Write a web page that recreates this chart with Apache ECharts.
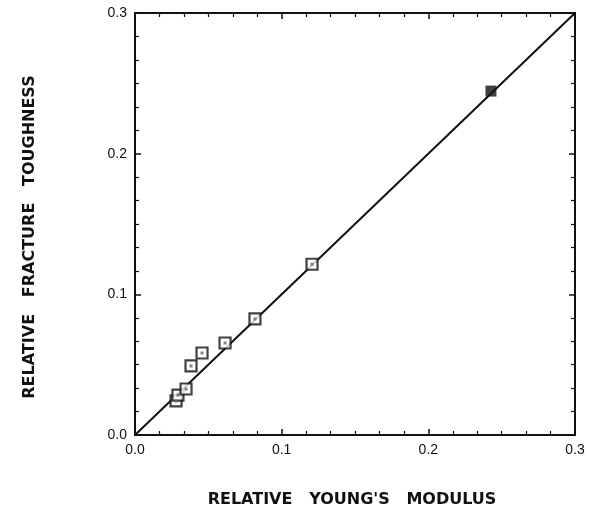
<!DOCTYPE html>
<html>
<head>
<meta charset="utf-8">
<script src="https://cdn.jsdelivr.net/npm/echarts@6/dist/echarts.min.js"></script>
<style>
  html, body { margin: 0; padding: 0; background: #fff; }
  #main { width: 591px; height: 510px; }
</style>
</head>
<body>
<div id="main"></div>
<script>
// data
var modulusX = [0.0280, 0.0293, 0.0348, 0.0382, 0.0457, 0.0614, 0.0818, 0.1207];
var toughY   = [0.0242, 0.0284, 0.0327, 0.0491, 0.0583, 0.0654, 0.0825, 0.1214];
var filledX = [0.2427];
var filledY = [0.2445];
var lineX = [0.0, 0.3];
var lineY = [0.0, 0.3];
var tickLabels = ['0.0', '0.1', '0.2', '0.3'];

function pairs(xs, ys) {
  var out = [];
  for (var i = 0; i < xs.length; i++) out.push([xs[i], ys[i]]);
  return out;
}

var myChart = echarts.init(document.getElementById('main'));
var font = 'Liberation Sans';
var titleFont = { fill: '#111', fontFamily: 'DejaVu Sans', fontWeight: 'bold', fontSize: 16, align: 'center', verticalAlign: 'middle' };

function axisCommon(showLabel) {
  return {
    min: 0, max: 0.3, interval: 0.1,
    axisLine: { show: true, onZero: false, lineStyle: { color: '#111', width: 2 } },
    axisTick: { show: true, inside: true, length: 6, lineStyle: { color: '#111', width: 1.5 } },
    minorTick: { show: true, splitNumber: 6, length: 4, lineStyle: { color: '#111', width: 1.2 } },
    splitLine: { show: false },
    axisLabel: {
      show: showLabel, color: '#111', fontFamily: font, fontSize: 14, margin: 8,
      formatter: function (v) { return tickLabels[Math.round(v * 10)]; }
    }
  };
}

var xb = axisCommon(true);
xb.position = 'bottom';
var xt = axisCommon(false);
xt.position = 'top';
var yl = axisCommon(true);
yl.position = 'left';
var yr = axisCommon(false);
yr.position = 'right';

var option = {
  animation: false,
  backgroundColor: '#fff',
  grid: { left: 135, right: 16, top: 13, bottom: 75 },
  xAxis: [xb, xt],
  yAxis: [yl, yr],
  // axis titles
  graphic: [
    {
      type: 'text',
      x: 352, y: 500,
      style: Object.assign({ text: "RELATIVE   YOUNG'S   MODULUS" }, titleFont)
    },
    {
      type: 'text',
      x: 30, y: 237, rotation: Math.PI / 2,
      style: Object.assign({ text: 'RELATIVE   FRACTURE   TOUGHNESS' }, titleFont)
    }
  ],
  series: [
    {
      type: 'line',
      data: pairs(lineX, lineY),
      symbol: 'none',
      lineStyle: { color: '#111', width: 2 },
      z: 2
    },
    {
      type: 'scatter',
      data: pairs(modulusX, toughY),
      symbol: 'rect',
      symbolSize: 11,
      itemStyle: { color: '#fff', borderColor: '#111', borderWidth: 2.2 },
      z: 3
    },
    {
      type: 'scatter',
      data: pairs(modulusX, toughY),
      symbol: 'rect',
      symbolSize: 3,
      itemStyle: { color: '#666' },
      z: 4
    },
    {
      type: 'scatter',
      data: pairs(filledX, filledY),
      symbol: 'rect',
      symbolSize: 11,
      itemStyle: { color: '#111' },
      z: 3
    }
  ]
};

myChart.setOption(option);
</script>
</body>
</html>
